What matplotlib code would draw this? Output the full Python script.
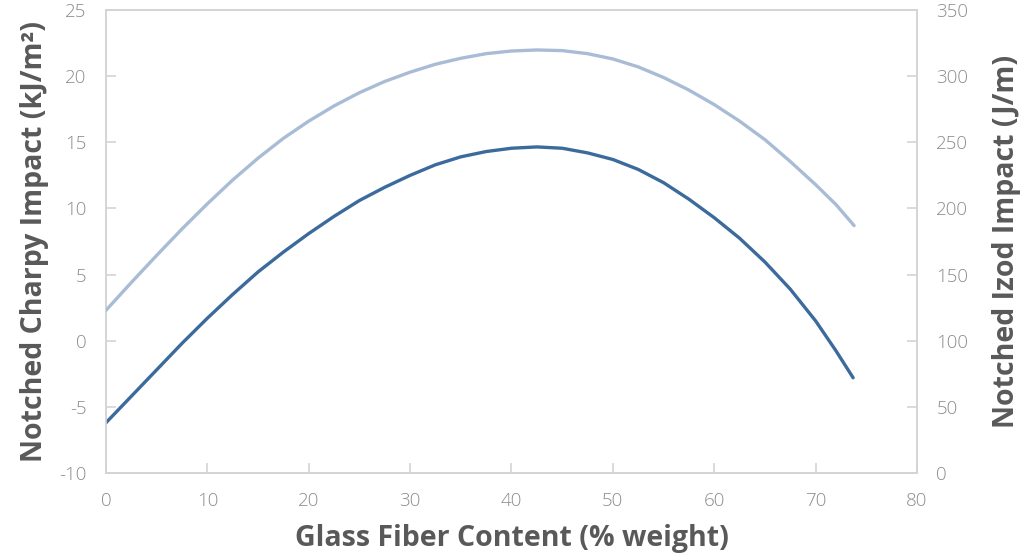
import matplotlib
matplotlib.use("Agg")
import matplotlib.pyplot as plt

# Data
glass_fiber_charpy = [0, 2.5, 5, 7.5, 10, 12.5, 15, 17.5, 20, 22.5, 25, 27.5, 30, 32.5, 35,
                      37.5, 40, 42.5, 45, 47.5, 50, 52.5, 55, 57.5, 60, 62.5, 65, 67.5, 70, 72, 73.7]
charpy_impact = [-6.2, -4.2, -2.2, -0.2, 1.7, 3.5, 5.2, 6.7, 8.1, 9.4, 10.6, 11.6, 12.5, 13.3, 13.9,
                 14.3, 14.55, 14.65, 14.55, 14.2, 13.7, 12.95, 11.95, 10.7, 9.3, 7.75, 5.95, 3.9, 1.5, -0.75, -2.8]

glass_fiber_izod = [0, 2.5, 5, 7.5, 10, 12.5, 15, 17.5, 20, 22.5, 25, 27.5, 30, 32.5, 35,
                    37.5, 40, 42.5, 45, 47.5, 50, 52.5, 55, 57.5, 60, 62.5, 65, 67.5, 70, 72, 73.8]
izod_impact = [123, 144, 164.5, 184.5, 203.5, 221.5, 238, 253, 266, 277.5, 287.5, 296, 303, 309, 313.5,
               317, 319, 319.8, 319.3, 317, 313, 307, 299, 289.5, 278.5, 266, 252, 235.5, 218, 203, 187]

x_ticks = [0, 10, 20, 30, 40, 50, 60, 70, 80]
left_ticks = [-10, -5, 0, 5, 10, 15, 20, 25]
right_ticks = [0, 50, 100, 150, 200, 250, 300, 350]

x_label = "Glass Fiber Content (% weight)"
left_label = "Notched Charpy Impact (kJ/m²)"
right_label = "Notched Izod Impact (J/m)"

plt.rcParams['font.family'] = ['Open Sans', 'DejaVu Sans']

fig = plt.figure(figsize=(10.25, 5.56), dpi=100)
ax = fig.add_axes([0.1034, 0.1493, 0.7912, 0.8327])
ax2 = ax.twinx()

spine_col = '#d4d4d4'
tick_col = '#8c8c8c'
label_col = '#595959'

ax.plot(glass_fiber_charpy, charpy_impact, color='#3b6a9c', lw=2.4,
        solid_capstyle='round', solid_joinstyle='round', zorder=3)
ax2.plot(glass_fiber_izod, izod_impact, color='#a9bcd5', lw=2.4,
         solid_capstyle='round', solid_joinstyle='round', zorder=3)

ax.set_xlim(0, 80)
ax.set_ylim(-10, 25)
ax2.set_ylim(0, 350)
ax.set_xticks(x_ticks)
ax.set_yticks(left_ticks)
ax2.set_yticks(right_ticks)

for a in (ax, ax2):
    for s in a.spines.values():
        s.set_color(spine_col)
        s.set_linewidth(1.2)
    a.tick_params(direction='in', length=7, width=1.2, color=spine_col,
                  labelcolor=tick_col, labelsize=13.5, pad=14)

ax.set_xticklabels([str(v) for v in x_ticks], fontweight='light')
ax.set_yticklabels([str(v) for v in left_ticks], fontweight='light')
ax2.set_yticklabels([str(v) for v in right_ticks], fontweight='light')

ax.set_xlabel(x_label, fontsize=20.5, fontweight='bold', color=label_col, labelpad=10)
ax.set_ylabel(left_label, fontsize=20.5, fontweight='bold', color=label_col, labelpad=7)
ax2.set_ylabel(right_label, fontsize=20.5, fontweight='bold', color=label_col, labelpad=17)

fig.savefig("out.png", dpi=100)
